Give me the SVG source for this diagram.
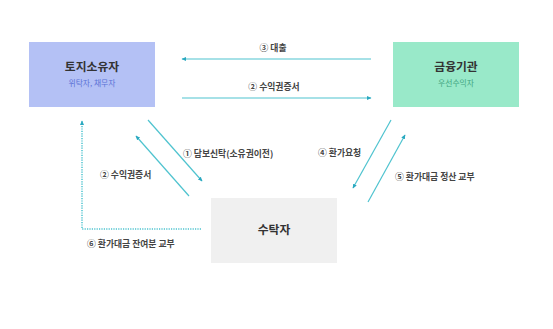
<svg xmlns="http://www.w3.org/2000/svg" width="553" height="329" viewBox="0 0 553 329">
<defs>
<style>
.title{font-family:"Noto Sans CJK KR","Noto Sans",sans-serif;font-size:11.8px;font-weight:bold;fill:#333;text-anchor:middle}
.sub{font-family:"Noto Sans CJK KR","Noto Sans",sans-serif;font-size:7.8px;text-anchor:middle}
.lbl{font-family:"Noto Sans CJK KR","Noto Sans",sans-serif;font-size:8.8px;font-weight:bold;fill:#444}
.ln{stroke:#4ec3cf;stroke-width:1.2;fill:none}
.dot{stroke:#4ec3cf;stroke-width:1.5;fill:none;stroke-dasharray:1.2 1.2}
</style>
<marker id="ah" viewBox="0 0 10 10" refX="8" refY="5" markerWidth="5" markerHeight="5" orient="auto-start-reverse" markerUnits="userSpaceOnUse">
<path d="M0,1 L9,5 L0,9 z" fill="#2aa8c0"/>
</marker>
</defs>
<rect width="553" height="329" fill="#ffffff"/>
<g id="owner">
<rect x="29" y="42" width="126" height="65" fill="#b4c1f5"/>
<text class="title" x="92" y="71">토지소유자</text>
<text class="sub" x="92" y="86" fill="#5b72d6">위탁자, 채무자</text>
</g>
<g id="bank">
<rect x="393" y="42" width="126" height="65" fill="#99e9c9"/>
<text class="title" x="456" y="71">금융기관</text>
<text class="sub" x="456" y="86" fill="#3fa57f">우선수익자</text>
</g>
<g id="trustee">
<rect x="211" y="198" width="126" height="65" fill="#f0f0f0"/>
<text class="title" x="274" y="234">수탁자</text>
</g>
<g id="connectors">
<line class="ln" x1="371" y1="59" x2="182" y2="59" marker-end="url(#ah)"/>
<line class="ln" x1="182" y1="98" x2="371" y2="98" marker-end="url(#ah)"/>
<line class="ln" x1="148" y1="120" x2="202" y2="181" marker-end="url(#ah)"/>
<line class="ln" x1="189" y1="196" x2="136" y2="136" marker-end="url(#ah)"/>
<polyline class="dot" points="201,229 82,229 82,121" marker-end="url(#ah)"/>
<line class="ln" x1="391" y1="120" x2="353" y2="188" marker-end="url(#ah)"/>
<line class="ln" x1="368" y1="202" x2="405" y2="135" marker-end="url(#ah)"/>
<text class="lbl" x="273" y="51" text-anchor="middle">③ 대출</text>
<text class="lbl" x="274" y="90" text-anchor="middle">② 수익권증서</text>
<text class="lbl" x="183" y="157">① 담보신탁(소유권이전)</text>
<text class="lbl" x="100" y="178">② 수익권증서</text>
<text class="lbl" x="318" y="156">④ 환가요청</text>
<text class="lbl" x="395" y="180">⑤ 환가대금 정산 교부</text>
<text class="lbl" x="87" y="247">⑥ 환가대금 잔여분 교부</text>
</g>
</svg>
